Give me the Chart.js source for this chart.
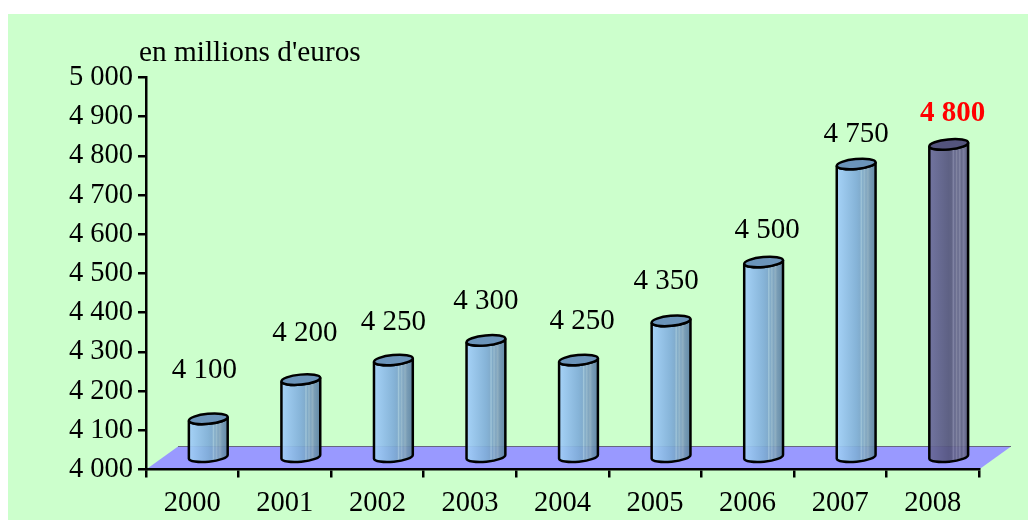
<!DOCTYPE html>
<html lang="fr">
<head>
<meta charset="UTF-8">
<title>en millions d'euros</title>
<script src="https://cdn.jsdelivr.net/npm/chart.js"></script>
<style>
    html, body { margin: 0; padding: 0; background: #fff; overflow: hidden; }
    .panel { position: absolute; left: 8px; top: 14px; width: 1020px; height: 506px; background: #ccffcc; }
    #chart { position: absolute; left: 0; top: 0; }
</style>
</head>
<body>
<div class="panel"></div>
<canvas id="chart" width="1028" height="520"></canvas>
<script>
const years = ['2000', '2001', '2002', '2003', '2004', '2005', '2006', '2007', '2008'];
const amounts = [4100, 4200, 4250, 4300, 4250, 4350, 4500, 4750, 4800];
const valueTexts = ['4 100', '4 200', '4 250', '4 300', '4 250', '4 350', '4 500', '4 750', '4 800'];
const yTicks = ['4 000', '4 100', '4 200', '4 300', '4 400', '4 500', '4 600', '4 700', '4 800', '4 900', '5 000'];

// hand placed labels in the original, offset from the bar top
const labelNudgeX = [-4, 4, 0, 0, 3.5, -5, 3.5, 0, 4];
const labelNudgeY = [-48, -46, -38, -39, -39, -39, -32, -30, -31];

const FONT = '"Liberation Serif", "Times New Roman", serif';
const DEPTH_X = 32, DEPTH_Y = 23;
const TILT = -5.5 * Math.PI / 180;

function bodyGradient(ctx, x0, x1, dark) {
    const g = ctx.createLinearGradient(x0, 0, x1, 0);
    const stops = dark
        ? [[0, '#6a6a9c'], [0.5, '#55557e'], [0.58, '#58587f'], [0.62, '#7a7aa0'], [0.66, '#5a5a84'], [0.7, '#7a7a9c'], [0.74, '#5e5e86'], [0.78, '#7c7ca0'], [0.83, '#5e5e84'], [0.88, '#74749a'], [1, '#484870']]
        : [[0, '#a2cffa'], [0.5, '#80aed8'], [0.6, '#7ba6cd'], [0.63, '#9dc2da'], [0.67, '#7aa3c5'], [0.71, '#92b4cc'], [0.75, '#7a9fbf'], [0.8, '#8aa9c0'], [0.85, '#7295b3'], [1, '#5a80a2']];
    stops.forEach(s => g.addColorStop(s[0], s[1]));
    return g;
}

const floorPlugin = {
    id: 'floor',
    beforeDraw(chart) {
        const { ctx, chartArea: a } = chart;
        ctx.save();
        ctx.fillStyle = '#9999ff';
        ctx.beginPath();
        ctx.moveTo(a.left, a.bottom);
        ctx.lineTo(a.left + DEPTH_X, a.bottom - DEPTH_Y);
        ctx.lineTo(a.right + DEPTH_X, a.bottom - DEPTH_Y);
        ctx.lineTo(a.right, a.bottom);
        ctx.closePath();
        ctx.fill();
        ctx.strokeStyle = '#666680';
        ctx.lineWidth = 1;
        ctx.beginPath();
        ctx.moveTo(a.left + DEPTH_X, a.bottom - DEPTH_Y);
        ctx.lineTo(a.right + DEPTH_X, a.bottom - DEPTH_Y);
        ctx.stroke();
        ctx.restore();
    }
};

const cylinderPlugin = {
    id: 'cylinders',
    afterDatasetsDraw(chart) {
        const ctx = chart.ctx;
        chart.getDatasetMeta(0).data.forEach((bar, i) => {
            const dark = i === amounts.length - 1;
            const cx = bar.x + DEPTH_X / 2;
            const top = bar.y - DEPTH_Y / 2;
            const base = bar.base - DEPTH_Y / 2;
            const rx = bar.width / 2, ry = 5;
            ctx.save();
            ctx.lineWidth = 2.5;
            ctx.strokeStyle = '#000';
            ctx.fillStyle = bodyGradient(ctx, cx - rx, cx + rx, dark);
            ctx.beginPath();
            ctx.ellipse(cx, top, rx, ry, TILT, Math.PI, 0, true);
            ctx.ellipse(cx, base, rx, ry, TILT, 0, Math.PI, false);
            ctx.closePath();
            ctx.globalAlpha = 0.93;
            ctx.fill();
            ctx.globalAlpha = 1;
            ctx.stroke();
            ctx.fillStyle = dark ? '#54547e' : '#6b94ba';
            ctx.beginPath();
            ctx.ellipse(cx, top, rx, ry, TILT, 0, Math.PI * 2);
            ctx.fill();
            ctx.stroke();

            ctx.fillStyle = dark ? '#ff0000' : '#000';
            ctx.font = (dark ? 'bold ' : '') + '29px ' + FONT;
            ctx.textAlign = 'center';
            ctx.textBaseline = 'middle';
            ctx.fillText(valueTexts[i], cx + labelNudgeX[i], top + labelNudgeY[i]);
            ctx.restore();
        });
    }
};

new Chart(document.getElementById('chart'), {
    type: 'bar',
    data: {
        labels: years,
        datasets: [{
            data: amounts,
            base: 4000,
            barThickness: 39,
            backgroundColor: 'rgba(0,0,0,0)',
            borderWidth: 0
        }]
    },
    options: {
        responsive: false,
        animation: false,
        layout: { padding: { left: 0, right: 49, top: 77.5, bottom: 0 } },
        plugins: {
            legend: { display: false },
            tooltip: { enabled: false },
            title: { display: false }
        },
        scales: {
            x: {
                afterFit(scale) { scale.height = 50.5; },
                grid: { drawOnChartArea: false, color: '#000', lineWidth: 2.5, tickLength: 8 },
                border: { color: '#000', width: 2.5 },
                ticks: {
                    color: '#000', maxRotation: 0, padding: 9,
                    font: { family: FONT, size: 28.5 }
                }
            },
            y: {
                min: 4000,
                max: 5000,
                afterFit(scale) { scale.width = 146; },
                grid: { drawOnChartArea: false, color: '#000', lineWidth: 2.5, tickLength: 8 },
                border: { color: '#000', width: 2.5 },
                ticks: {
                    stepSize: 100, color: '#000', padding: 5,
                    font: { family: FONT, size: 28.5 },
                    callback(value, index) { return yTicks[index]; }
                }
            }
        }
    },
    plugins: [floorPlugin, cylinderPlugin, {
        id: 'unit',
        afterDraw(chart) {
            const ctx = chart.ctx;
            ctx.save();
            ctx.fillStyle = '#000';
            ctx.font = '29.3px ' + FONT;
            ctx.textAlign = 'left';
            ctx.textBaseline = 'alphabetic';
            ctx.fillText("en millions d'euros", 139, 61);
            ctx.restore();
        }
    }]
});
</script>
</body>
</html>
